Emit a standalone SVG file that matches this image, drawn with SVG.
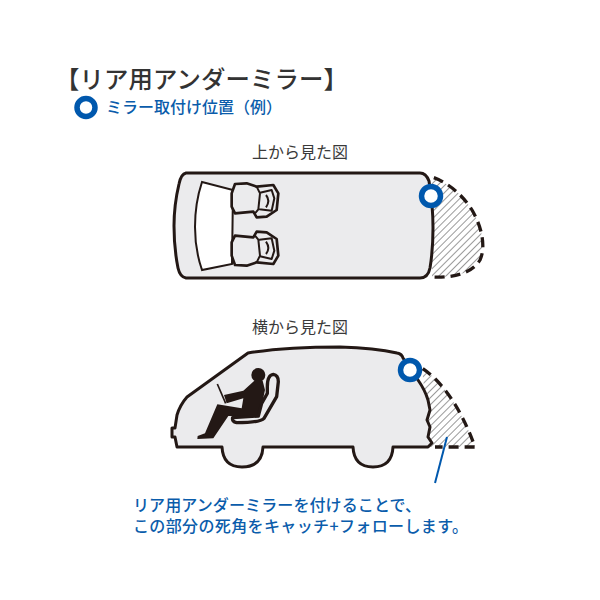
<svg xmlns="http://www.w3.org/2000/svg" width="600" height="600" viewBox="0 0 600 600">
<style>
text{font-family:"Noto Sans CJK JP","Noto Sans",sans-serif;font-weight:500}
.title{font-size:24.400px;fill:#333}
.cap{font-size:16px;fill:#3a3a3a;font-weight:400}
.blue{font-size:16px;fill:#0a5cab}
.body{fill:#ebebed;stroke:#231815;stroke-width:3;stroke-linejoin:round}
.dash{fill:none;stroke:#231815;stroke-width:3.300;stroke-dasharray:10 6}
.ring{fill:#fff;stroke:#0058ad;stroke-width:5.500}
</style>
<defs>
<pattern id="hatch" width="5" height="5" patternUnits="userSpaceOnUse" patternTransform="rotate(-45)">
<rect width="5" height="5" fill="#fff"/>
<line x1="0" y1="0.500" x2="5" y2="0.500" stroke="#555" stroke-width="0.600"/>
</pattern>
<g id="seat" transform="translate(160 160) scale(.33333)">
<path d="M215 100L225 72L260 70L290 80L340 75L355 100L350 150L320 170L290 172L280 155L225 160L215 140Z" fill="#ebebed" stroke="#231815" stroke-width="8" stroke-linejoin="round"/>
<path d="M290 80L300 100L295 148L285 160M300 98L335 90L343 115L335 152L298 148M318 105Q332 122 318 142" fill="none" stroke="#231815" stroke-width="6" stroke-linejoin="round"/>
</g>
</defs>

<text class="title" x="55" y="88" textLength="293">【リア用アンダーミラー】</text>
<g id="legend">
<circle class="ring" cx="86" cy="107.500" r="9"/>
<text class="blue" x="106" y="113" textLength="176">ミラー取付け位置（例）</text>
</g>
<text class="cap" x="252" y="158" textLength="96">上から見た図</text>
<text class="cap" x="252" y="333" textLength="96">横から見た図</text>

<g id="top-view">
<path id="top-zone" d="M432 177C447 182 462 194 472 210C482 227 486 247 480 260C472 273 455 278 432 277Z" fill="url(#hatch)"/>
<path class="dash" d="M432 177C447 182 462 194 472 210C482 227 486 247 480 260C472 273 455 278 432 277" stroke-dashoffset="-2"/>
<path class="body" d="M186 173L420 173Q426 173 429 181Q433 205 433 228Q433 250 430 268Q428 278 420 278L186 278Q180 277 178 268Q174 248 174 226Q174 205 179 184Q181 174 186 173Z"/>
<path d="M202 182L233 190L232 264L202 270Q195 250 195 227Q195 203 202 182Z" fill="#fff" stroke="#231815" stroke-width="2"/>
<use href="#seat"/>
<use href="#seat" transform="translate(0 449) scale(1 -1)"/>
<circle class="ring" cx="431" cy="196" r="9.500"/>
</g>

<g id="side-view">
<path id="side-zone" d="M422 368C440 380 460 405 475 447L430 447Z" fill="url(#hatch)"/>
<path class="dash" d="M422 368C440 380 460 405 475 447L435 447" stroke-dashoffset="-1"/>
<path class="body" d="M177 447L175 437L172 437L172 428L175 428L177 415Q180 405 187 397L248 353Q285 347 340 347Q375 348 397 353Q402 354 403 358L418 380Q425 390 428 400L430 410L427 420L430 427L428 437L432 443L428 447L393 447Q392 467 373 467Q354 467 353 447L263 447Q262 467 242 467Q223 467 222 447Z"/>
<g transform="translate(160 340) scale(.33333)">
<circle cx="295" cy="105" r="21" fill="#231815"/>
<path d="M283 122L308 122L315 150L298 230L205 228L160 295L112 297L113 288L135 280L172 193L245 205L250 175L200 190L192 165L250 152Z" fill="#231815"/>
<path d="M172 132L197 190" stroke="#231815" stroke-width="5" fill="none"/>
<path d="M322 140Q322 105 340 103Q355 105 355 125L350 170L312 235Q300 248 230 248Q215 245 218 233L295 228L305 190L322 160Z" fill="#ebebed" stroke="#231815" stroke-width="10" stroke-linejoin="round"/>
</g>
<circle class="ring" cx="410" cy="370" r="9.500"/>
</g>

<g id="connectors">
<line x1="447" y1="437" x2="435" y2="483" stroke="#0058ad" stroke-width="2"/>
</g>

<text class="blue" x="133" y="511" textLength="288">リア用アンダーミラーを付けることで、</text>
<text class="blue" x="133" y="532" textLength="335">この部分の死角をキャッチ+フォローします。</text>
</svg>
